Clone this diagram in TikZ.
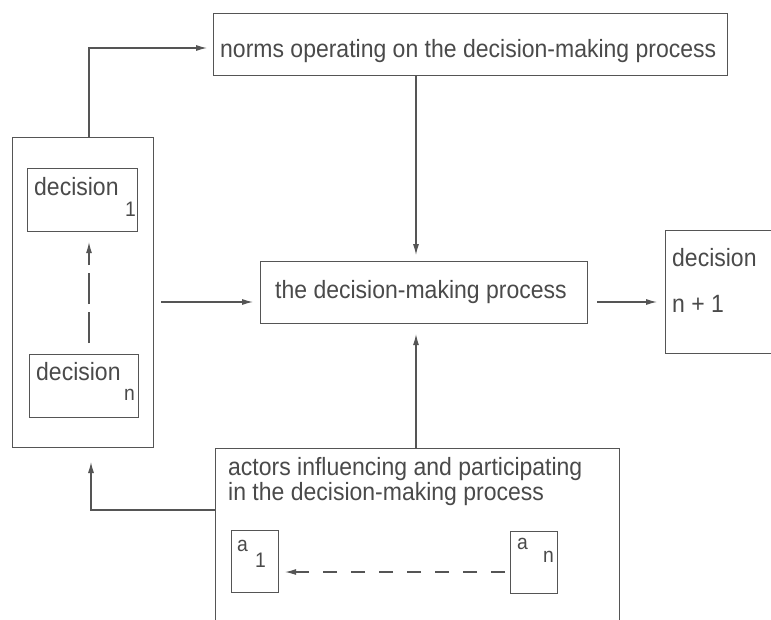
\documentclass[tikz,border=0pt]{standalone}
\usepackage{fontspec}
\setmainfont{Liberation Sans}[FakeStretch=0.92]
\usetikzlibrary{arrows.meta}
\definecolor{ink}{HTML}{555555}
\definecolor{txt}{HTML}{4A4A4A}
\tikzset{
  box/.style={draw=ink, line width=1.1pt, rectangle, inner sep=0pt, anchor=north west},
  lbl/.style={anchor=base west, inner sep=0pt, text=txt, font=\fontsize{25}{28}\selectfont},
  sub/.style={anchor=base west, inner sep=0pt, text=txt, font=\fontsize{21}{24}\selectfont},
  conn/.style={draw=ink, line width=1.1pt, -{Latex[length=11pt,width=6pt]}},
  dconn/.style={conn, dash pattern=on 14pt off 14pt},
  vdconn/.style={conn, dash pattern=on 31pt off 8pt}
}
\begin{document}
\begin{tikzpicture}[x=1pt,y=-1pt]
\clip (0,0) rectangle (771,619);
\fill[white] (0,0) rectangle (771,619);
% boxes
\node[box, minimum width=514pt, minimum height=62pt] (norms) at (213,13) {};
\node[box, minimum width=327pt, minimum height=62pt] (proc) at (260,261) {};
\node[box, minimum width=141pt, minimum height=310pt] (left) at (12,137) {};
\node[box, minimum width=110pt, minimum height=63pt] (d1) at (27,168) {};
\node[box, minimum width=109pt, minimum height=63pt] (dn) at (29,354) {};
\node[box, minimum width=130pt, minimum height=123pt] (dnext) at (665,230) {};
\node[box, minimum width=404pt, minimum height=200pt] (actors) at (215,448) {};
\node[box, minimum width=47pt, minimum height=62pt] (a1) at (231,530) {};
\node[box, minimum width=47pt, minimum height=62pt] (an) at (510,531) {};
% texts
\node[lbl] (tnorms) at (220,57) {norms operating on the decision-making process};
\node[lbl] (tproc) at (275,298) {the decision-making process};
\node[lbl] (td1) at (34,195) {decision};
\node[sub] (td1s) at (125,216) {1};
\node[lbl] (tdn) at (36,380) {decision};
\node[sub] (tdns) at (124,400) {n};
\node[lbl] (tnext1) at (672,266) {decision};
\node[lbl] (tnext2) at (672,312) {n + 1};
\node[lbl] (tact1) at (228,475) {actors influencing and participating};
\node[lbl] (tact2) at (228,500) {in the decision-making process};
\node[sub] (ta1) at (237,551) {a};
\node[sub] (ta1s) at (255,567) {1};
\node[sub] (tan) at (517,549) {a};
\node[sub] (tans) at (543,562) {n};
% connectors
\draw[conn, shorten >=6pt] (left.north west) ++(77,0) coordinate (lt) -- (lt |- 0,48) -- (norms.west |- 0,48);
\draw[conn, shorten >=6pt] (norms.south west) ++(203,0) coordinate (nb) -- (nb |- proc.north);
\draw[conn, shorten <=7pt, shorten >=7pt] (left.east |- 0,302) -- (proc.west |- 0,302);
\draw[conn, shorten <=9pt, shorten >=8pt] (proc.east |- 0,302) -- (dnext.west |- 0,302);
\draw[conn, shorten >=10pt] (nb |- actors.north) -- (nb |- proc.south);
\draw[conn, shorten >=15pt] (actors.west |- 0,510) -- (91,510) -- (91,447);
\draw[vdconn, shorten <=11pt, shorten >=10pt] (dn.north west) ++(60,0) coordinate (dnt) -- (dnt |- d1.south);
\draw[dconn, shorten <=5pt, shorten >=6pt] (an.west |- 0,572) -- (a1.east |- 0,572);
\end{tikzpicture}
\end{document}
